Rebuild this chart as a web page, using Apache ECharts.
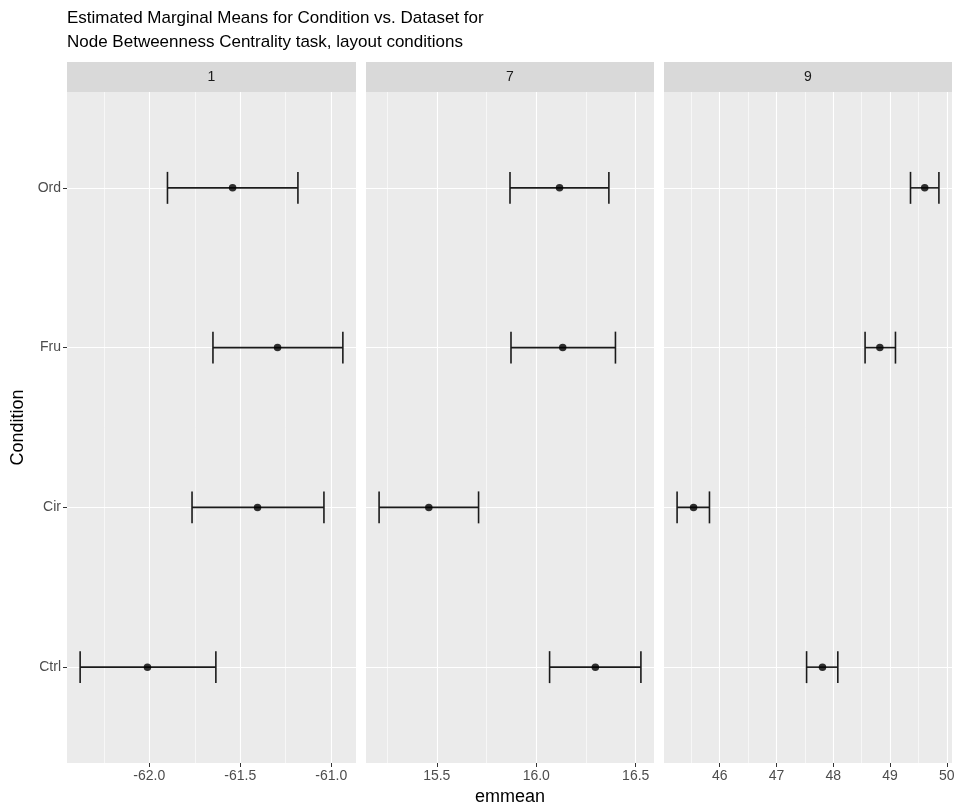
<!DOCTYPE html>
<html>
<head>
<meta charset="utf-8">
<script src="https://cdn.jsdelivr.net/npm/echarts@6/dist/echarts.min.js"></script>
<style>
html,body{margin:0;padding:0;background:#fff;}
#chart{width:958px;height:811px;}
</style>
</head>
<body>
<div id="chart"></div>
<script>
// ---- data ----
const conditions = ['Ctrl', 'Cir', 'Fru', 'Ord'];   // bottom to top
const datasets = ['1', '7', '9'];

const emmean1 = [-62.01, -61.405, -61.295, -61.542];
const lower1  = [-62.38, -61.765, -61.65, -61.90];
const upper1  = [-61.634, -61.04, -60.936, -61.183];

const emmean7 = [16.297, 15.46, 16.133, 16.117];
const lower7  = [16.067, 15.21, 15.873, 15.868];
const upper7  = [16.526, 15.71, 16.398, 16.365];

const emmean9 = [47.81, 45.54, 48.82, 49.61];
const lower9  = [47.53, 45.25, 48.56, 49.36];
const upper9  = [48.08, 45.82, 49.095, 49.86];

const majorTicks1 = [-62.0, -61.5, -61.0];
const minorTicks1 = [-62.25, -61.75, -61.25];
const majorTicks7 = [15.5, 16.0, 16.5];
const minorTicks7 = [15.25, 15.75, 16.25];
const majorTicks9 = [46, 47, 48, 49, 50];
const minorTicks9 = [45.5, 46.5, 47.5, 48.5, 49.5];

const panels = [
  {name: datasets[0], em: emmean1, lo: lower1, hi: upper1, major: majorTicks1, minor: minorTicks1, dec: 1},
  {name: datasets[1], em: emmean7, lo: lower7, hi: upper7, major: majorTicks7, minor: minorTicks7, dec: 1},
  {name: datasets[2], em: emmean9, lo: lower9, hi: upper9, major: majorTicks9, minor: minorTicks9, dec: 0}
];

// ---- layout ----
const FONT = '"Liberation Sans", Arial, Helvetica, sans-serif';
const gridTop = 92, gridHeight = 671;
const gridLefts = [67, 366, 664];
const gridWidths = [289, 288, 288];
const stripTop = 62, stripH = 30;

const grids = [], xAxes = [], yAxes = [], series = [], graphics = [];

panels.forEach((p, i) => {
  const dmin = Math.min(...p.lo), dmax = Math.max(...p.hi);
  const pad = (dmax - dmin) * 0.05;
  grids.push({
    left: gridLefts[i], top: gridTop, width: gridWidths[i], height: gridHeight,
    show: true, backgroundColor: '#EBEBEB', borderWidth: 0, containLabel: false
  });
  xAxes.push({
    type: 'value', gridIndex: i, min: dmin - pad, max: dmax + pad,
    axisLine: {show: false},
    axisTick: {show: true, customValues: p.major, length: 4, lineStyle: {color: '#333333', width: 1}},
    axisLabel: {show: true, customValues: p.major, color: '#4D4D4D', fontSize: 14, fontFamily: FONT, margin: 6,
      formatter: v => (v < 0 ? '-' : '') + Math.abs(v).toFixed(p.dec)},
    splitLine: {show: false},
    name: i === 1 ? 'emmean' : '',
    nameLocation: 'middle', nameGap: 25,
    nameTextStyle: {color: '#000', fontSize: 18, fontFamily: FONT}
  });
  yAxes.push({
    type: 'value', gridIndex: i, min: 0.4, max: 4.6,
    axisLine: {show: false},
    axisTick: {show: i === 0, customValues: [1, 2, 3, 4], length: 4, lineStyle: {color: '#333333', width: 1}},
    axisLabel: {show: i === 0, customValues: [1, 2, 3, 4], color: '#4D4D4D', fontSize: 14, fontFamily: FONT, margin: 6,
      formatter: v => conditions[Math.round(v) - 1]},
    splitLine: {show: false},
    name: i === 0 ? 'Condition' : '',
    nameLocation: 'middle', nameGap: 40, nameRotate: 90,
    nameTextStyle: {color: '#000', fontSize: 18, fontFamily: FONT}
  });

  // grid lines
  const mlData = [];
  p.minor.forEach(v => mlData.push({xAxis: v, lineStyle: {color: '#FFFFFF', width: 0.6, type: 'solid'}}));
  p.major.forEach(v => mlData.push({xAxis: v, lineStyle: {color: '#FFFFFF', width: 1.1, type: 'solid'}}));
  [1, 2, 3, 4].forEach(v => mlData.push({yAxis: v, lineStyle: {color: '#FFFFFF', width: 1.1, type: 'solid'}}));
  series.push({
    type: 'scatter', xAxisIndex: i, yAxisIndex: i, data: [], silent: true, z: 1,
    markLine: {silent: true, symbol: ['none', 'none'], label: {show: false}, animation: false, z: 1, data: mlData}
  });

  // error bars
  const ebData = conditions.map((c, k) => [p.lo[k], p.hi[k], k + 1]);
  series.push({
    type: 'custom', xAxisIndex: i, yAxisIndex: i, z: 10, silent: true, animation: false,
    data: ebData,
    renderItem: function (params, api) {
      const lo = api.value(0), hi = api.value(1), y = api.value(2);
      const a = api.coord([lo, y]), b = api.coord([hi, y]);
      const a1 = api.coord([lo, y - 0.1]), a2 = api.coord([lo, y + 0.1]);
      const b1 = api.coord([hi, y - 0.1]), b2 = api.coord([hi, y + 0.1]);
      const st = {stroke: '#1a1a1a', lineWidth: 1.6};
      return {type: 'group', children: [
        {type: 'line', shape: {x1: a[0], y1: a[1], x2: b[0], y2: b[1]}, style: st},
        {type: 'line', shape: {x1: a1[0], y1: a1[1], x2: a2[0], y2: a2[1]}, style: st},
        {type: 'line', shape: {x1: b1[0], y1: b1[1], x2: b2[0], y2: b2[1]}, style: st}
      ]};
    }
  });
  // points
  series.push({
    type: 'scatter', xAxisIndex: i, yAxisIndex: i, z: 11, silent: true, animation: false,
    symbol: 'circle', symbolSize: 7.5, itemStyle: {color: '#000000'},
    data: conditions.map((c, k) => [p.em[k], k + 1])
  });

  // facet strip
  graphics.push({
    type: 'rect', left: gridLefts[i], top: stripTop, silent: true,
    shape: {width: gridWidths[i], height: stripH}, style: {fill: '#D9D9D9'}
  });
  graphics.push({
    type: 'text', silent: true,
    x: gridLefts[i] + gridWidths[i] / 2, y: stripTop + stripH / 2,
    style: {text: p.name, fill: '#1A1A1A', font: '14px ' + FONT, align: 'center', verticalAlign: 'middle'}
  });
});

const chart = echarts.init(document.getElementById('chart'), null, {renderer: 'canvas'});
chart.setOption({
  animation: false,
  backgroundColor: '#FFFFFF',
  title: {
    text: 'Estimated Marginal Means for Condition vs. Dataset for\nNode Betweenness Centrality task, layout conditions',
    left: 62, top: 1,
    textStyle: {color: '#000', fontSize: 17, fontWeight: 'normal', fontFamily: FONT, lineHeight: 24}
  },
  grid: grids,
  xAxis: xAxes,
  yAxis: yAxes,
  series: series,
  graphic: graphics
});
</script>
</body>
</html>
